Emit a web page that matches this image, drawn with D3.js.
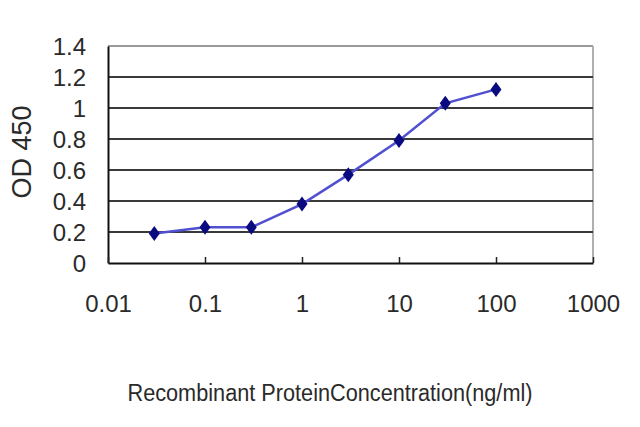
<!DOCTYPE html>
<html><head><meta charset="utf-8">
<script src="https://cdn.jsdelivr.net/npm/d3@7"></script>
<style>body{margin:0;background:#fff}svg{display:block}</style>
</head><body>
<script>
const concentrations = [0.03, 0.1, 0.3, 1, 3, 10, 30, 100];
const odValues = [0.19, 0.23, 0.23, 0.38, 0.57, 0.79, 1.03, 1.12];
const xTicks = [0.01, 0.1, 1, 10, 100, 1000];
const xTickLabels = ["0.01", "0.1", "1", "10", "100", "1000"];
const yTicks = [0, 0.2, 0.4, 0.6, 0.8, 1, 1.2, 1.4];
const yTickLabels = ["0", "0.2", "0.4", "0.6", "0.8", "1", "1.2", "1.4"];
const xTitle = "Recombinant ProteinConcentration(ng/ml)";
const yTitle = "OD 450";

const W = 640, H = 427;
const m = {l:108, r:47, t:46, b:164};
const svg = d3.select("body").append("svg").attr("width", W).attr("height", H);
const font = "'Liberation Sans', Arial, sans-serif";

const x = d3.scaleLog().domain([0.01, 1000]).range([m.l, W - m.r]);
const y = d3.scaleLinear().domain([0, 1.4]).range([H - m.b, m.t]);

// frame: top and right light grey
svg.append("line").attr("x1", m.l).attr("x2", W - m.r).attr("y1", y(1.4)).attr("y2", y(1.4))
  .attr("stroke", "#9a9a9a").attr("stroke-width", 2);
svg.append("line").attr("x1", W - m.r).attr("x2", W - m.r).attr("y1", y(1.4)).attr("y2", y(0))
  .attr("stroke", "#b0b0b0").attr("stroke-width", 2);

// gridlines
svg.append("g").selectAll("line").data(yTicks.filter(v => v > 0 && v < 1.4)).join("line")
  .attr("x1", m.l).attr("x2", W - m.r).attr("y1", d => y(d)).attr("y2", d => y(d))
  .attr("stroke", "#3a3a3a").attr("stroke-width", 2.2);

// y axis
const yAxis = d3.axisLeft(y).tickValues(yTicks).tickSize(0).tickPadding(22)
  .tickFormat((d, i) => yTickLabels[i]);
const gy = svg.append("g").attr("transform", `translate(${m.l},0)`).call(yAxis);
gy.select(".domain").attr("stroke", "#111").attr("stroke-width", 2);
gy.selectAll("text").attr("font-family", font).attr("font-size", 24).attr("fill", "#2a2a2a")
  .attr("dy", "0.36em");

// x axis
const xAxis = d3.axisBottom(x).tickValues(xTicks).tickSizeInner(-6).tickSizeOuter(0).tickPadding(32)
  .tickFormat((d, i) => xTickLabels[i]);
const gx = svg.append("g").attr("transform", `translate(0,${y(0)})`).call(xAxis);
gx.select(".domain").attr("stroke", "#111").attr("stroke-width", 2);
gx.selectAll(".tick line").attr("stroke", "#222").attr("stroke-width", 1.5);
gx.selectAll("text").attr("font-family", font).attr("font-size", 24).attr("fill", "#2a2a2a");

// line
const pts = concentrations.map((c, i) => [c, odValues[i]]);
svg.append("path").datum(pts)
  .attr("d", d3.line().x(d => x(d[0])).y(d => y(d[1])))
  .attr("fill", "none").attr("stroke", "#5050d0").attr("stroke-width", 2.5);

// diamond markers
svg.append("g").selectAll("path").data(pts).join("path")
  .attr("transform", d => `translate(${x(d[0])},${y(d[1])})`)
  .attr("d", "M0,-7.5L5.5,0L0,7.5L-5.5,0Z")
  .attr("fill", "#0a0a80");

// titles
svg.append("text").attr("x", 330).attr("y", 401).attr("text-anchor", "middle")
  .attr("font-family", font).attr("font-size", 23).attr("fill", "#2a2a2a")
  .attr("textLength", 405).attr("lengthAdjust", "spacingAndGlyphs")
  .text(xTitle);
svg.append("text").attr("transform", `translate(31,152) rotate(-90)`)
  .attr("text-anchor", "middle")
  .attr("font-family", font).attr("font-size", 27).attr("fill", "#2a2a2a")
  .text(yTitle);
</script>
</body></html>
